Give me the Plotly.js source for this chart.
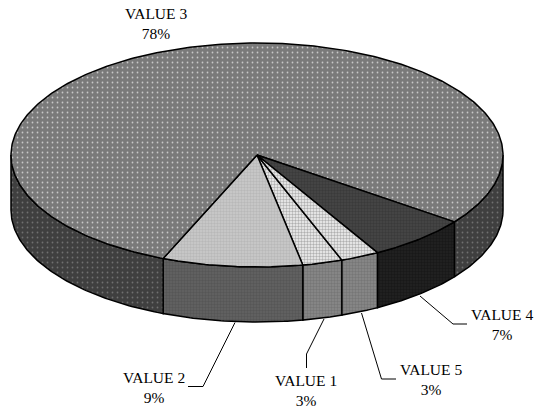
<!DOCTYPE html>
<html>
<head>
<meta charset="utf-8">
<script src="https://cdn.plot.ly/plotly-3.0.1.min.js"></script>
<style>html,body{margin:0;padding:0;background:#fff}#chart{width:538px;height:408px}</style>
</head>
<body>
<div id="chart"></div>
<script>
// Data, clockwise from the front of the pie
const categories = ['VALUE 1', 'VALUE 2', 'VALUE 3', 'VALUE 4', 'VALUE 5'];
const values = [2.6, 9.1, 78, 6.6, 2.5];
const percentLabels = ['3%', '9%', '78%', '7%', '3%'];

// Geometry of the tilted disc, in axis units
const CX = 257, CY = 155, RX = 246, RY = 112, DEPTH = 55, START = -20.2;

// Styles per slice
const topStyle = [
  {bg: '#f4f4f4', fg: '#b0b0b0', size: 3, sol: 0.5},
  {bg: '#cbcbcb', fg: '#b8b8b8', size: 3, sol: 0.5},
  {bg: '#7a7a7a', fg: '#c8c8c8', size: 5, sol: 0.1},
  {bg: '#474747', fg: '#3a3a3a', size: 3, sol: 0.5},
  {bg: '#f4f4f4', fg: '#b0b0b0', size: 3, sol: 0.5}
];
const sideStyle = [
  {bg: '#8a8a8a', fg: '#767676', size: 3, sol: 0.5},
  {bg: '#636363', fg: '#565656', size: 3, sol: 0.5},
  {bg: '#3f3f3f', fg: '#707070', size: 5, sol: 0.1},
  {bg: '#222222', fg: '#181818', size: 3, sol: 0.5},
  {bg: '#8a8a8a', fg: '#767676', size: 3, sol: 0.5}
];

// Leader lines (slice index, then axis-unit vertices) and label anchors
const leaderX = {1: [235, 203, 188], 0: [324, 306.5, 306.5], 4: [361.5, 381.5, 396], 3: [420, 453, 467]};
const leaderY = {1: [322.5, 386.5, 386.5], 0: [319, 354, 368], 4: [313, 379, 379], 3: [296, 324, 324]};
const labelX = [306, 153.5, 156, 502, 431];
const labelY = [390, 387, 23, 324, 379.5];

const rad = d => d * Math.PI / 180;
const px = phi => CX - RX * Math.sin(rad(phi));
const py = (phi, dz) => CY + RY * Math.cos(rad(phi)) + (dz || 0);
const arc = (a, b, dz) => {
  const n = Math.max(2, Math.ceil(Math.abs(b - a) / 0.75));
  const xs = [], ys = [];
  for (let i = 0; i <= n; i++) {
    const p = a + (b - a) * i / n;
    xs.push(px(p)); ys.push(py(p, dz));
  }
  return {xs, ys};
};
const patt = s => ({shape: '.', bgcolor: s.bg, fgcolor: s.fg, size: s.size, solidity: s.sol, fillmode: 'replace'});

const total = values.reduce((a, b) => a + b, 0);
const walls = [], tops = [], leaders = [];
let cursor = START;
values.forEach((v, i) => {
  const s = cursor, e = cursor + v / total * 360;
  cursor = e;
  [[-90, 90], [270, 450]].forEach(([lo, hi]) => {
    const a = Math.max(s, lo), b = Math.min(e, hi);
    if (b <= a) return;
    const top = arc(a, b, 0), bot = arc(b, a, DEPTH);
    walls.push({
      type: 'scatter', mode: 'lines', hoverinfo: 'skip', showlegend: false,
      x: [...top.xs, ...bot.xs, top.xs[0]], y: [...top.ys, ...bot.ys, top.ys[0]],
      fill: 'toself', fillcolor: sideStyle[i].bg, fillpattern: patt(sideStyle[i]),
      line: {color: '#000', width: 1.5}
    });
  });
  const a = arc(s, e, 0);
  tops.push({
    type: 'scatter', mode: 'lines', hoverinfo: 'skip', showlegend: false, name: categories[i],
    x: [CX, ...a.xs, CX], y: [CY, ...a.ys, CY],
    fill: 'toself', fillcolor: topStyle[i].bg, fillpattern: patt(topStyle[i]),
    line: {color: '#000', width: 1.5}
  });
  if (leaderX[i]) leaders.push({
    type: 'scatter', mode: 'lines', hoverinfo: 'skip', showlegend: false,
    x: leaderX[i], y: leaderY[i], line: {color: '#000', width: 1}
  });
});

const annotations = categories.map((c, i) => ({
  x: labelX[i], y: labelY[i], xref: 'x', yref: 'y', showarrow: false, align: 'center',
  text: c + '<br>' + percentLabels[i],
  font: {family: '"Liberation Serif", serif', size: 15.5, color: '#000'}
}));

Plotly.newPlot('chart', [...walls, ...tops, ...leaders], {
  width: 538, height: 408,
  margin: {l: 0, r: 0, t: 0, b: 0},
  paper_bgcolor: '#fff', plot_bgcolor: '#fff',
  showlegend: false,
  xaxis: {range: [0, 538], visible: false, fixedrange: true},
  yaxis: {range: [408, 0], visible: false, fixedrange: true},
  annotations
}, {displayModeBar: false, staticPlot: true});
</script>
</body>
</html>
